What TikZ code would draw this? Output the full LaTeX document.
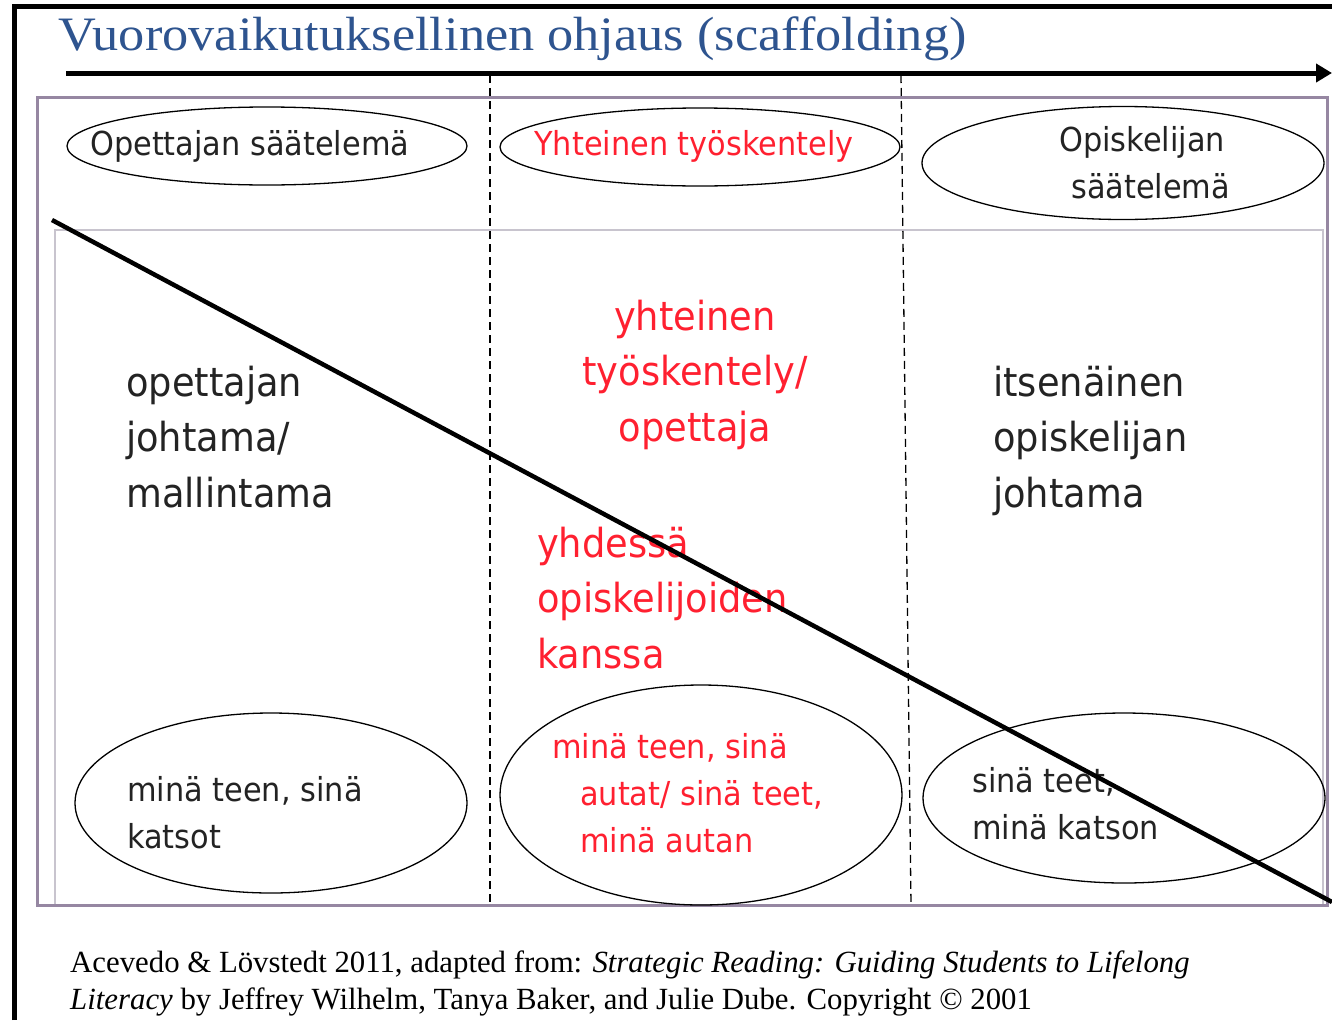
\documentclass[tikz,border=0pt]{standalone}
\usepackage{fontspec}
\setmainfont{Liberation Serif}
\newfontfamily\tahoma[FakeStretch=0.92]{DejaVu Sans}
\newfontfamily\otsikkofontti[FakeStretch=1.09]{Liberation Serif}
\usetikzlibrary{shapes.geometric,arrows.meta}
\definecolor{otsikkosini}{RGB}{46,84,143}
\definecolor{puna}{RGB}{255,32,48}
\definecolor{kehys}{RGB}{150,135,162}
\definecolor{sisakehys}{RGB}{200,196,206}
\definecolor{teksti}{RGB}{35,35,35}
\newcommand{\isoteksti}{\tahoma\fontsize{40}{55.5}\selectfont}
\newcommand{\pieniteksti}{\tahoma\fontsize{33}{47}\selectfont}
\begin{document}
\begin{tikzpicture}[x=1pt, y=-1pt, every node/.style={inner sep=0pt},
	soikio/.style={draw, ellipse, line width=1.3pt},
	kirjoitus/.style={align=left, text=teksti, anchor=base west},
	katko/.style={line width=1.3pt, dash pattern=on 8pt off 5pt}]
	\useasboundingbox (0,0) rectangle (1332,1020);
	\draw[line width=5pt] (14.5,1020) -- (14.5,6.5) -- (1332,6.5);
	\node[anchor=base west, text=otsikkosini, font=\otsikkofontti\fontsize{48}{48}\selectfont] (Otsikko) at (58,50) {Vuorovaikutuksellinen ohjaus (scaffolding)};
	\coordinate (Nuoli alku) at (66,73);
	\coordinate (Nuoli loppu) at (1332,73);
	\draw[line width=5pt, -{Triangle[length=16pt,width=18pt]}] (Nuoli alku) -- (Nuoli loppu);
	\draw[sisakehys, line width=1.5pt] (55,905) |- (1323,230) -- (1323,905);
	\draw[kehys, line width=3pt] (37,97) rectangle (1327,905);
	\draw[katko] (490,75) -- (490,905);
	\draw[katko] (901,75) -- (911,905);
	\node[soikio, minimum width=400, minimum height=78] (Opettajan soikio) at (267,146) {};
	\node[soikio, minimum width=400, minimum height=78] (Yhteinen soikio) at (700,147) {};
	\node[soikio, minimum width=402, minimum height=113] (Opiskelijan soikio) at (1123,163) {};
	\node[soikio, minimum width=392, minimum height=180] (Katsot soikio) at (271,803) {};
	\node[soikio, minimum width=402, minimum height=220] (Autan soikio) at (701,795) {};
	\node[soikio, minimum width=402, minimum height=170] (Katson soikio) at (1124,798) {};
	\node[kirjoitus, font=\pieniteksti] (Opettajan saatelema) at (90,155) {Opettajan säätelemä};
	\node[kirjoitus, font=\pieniteksti, text=puna, anchor=base] (Yhteinen tyoskentely) at (694,155) {Yhteinen työskentely};
	\node[kirjoitus, font=\pieniteksti] (Opiskelijan saatelema) at (1059,198) {Opiskelijan\\\hspace*{12pt}säätelemä};
	\node[kirjoitus, font=\isoteksti] (Opettajan johtama) at (126,507) {opettajan\\johtama/\\mallintama};
	\node[kirjoitus, font=\isoteksti, text=puna, align=center, anchor=base] (Yhteinen opettaja) at (695,441) {yhteinen\\työskentely/\\opettaja};
	\node[kirjoitus, font=\isoteksti] (Itsenainen) at (993,507) {itsenäinen\\opiskelijan\\johtama};
	\node[kirjoitus, font=\isoteksti, text=puna] (Yhdessa) at (537,668) {yhdessä\\opiskelijoiden\\kanssa};
	\node[kirjoitus, font=\pieniteksti] (Mina katsot) at (127,848) {minä teen, sinä\\katsot};
	\node[kirjoitus, font=\pieniteksti, text=puna] (Mina autan) at (552,852) {minä teen, sinä\\\hspace*{28pt}autat/ sinä teet,\\\hspace*{28pt}minä autan};
	\node[kirjoitus, font=\pieniteksti] (Sina teet) at (972,839) {sinä teet,\\minä katson};
	\coordinate (Viiva alku) at (52,220);
	\coordinate (Viiva loppu) at (1332,902);
	\draw[line width=4.5pt] (Viiva alku) -- (Viiva loppu);
	\node[anchor=base west, align=left, font=\fontsize{30.8}{37}\selectfont] (Lahde) at (70,1009) {Acevedo \& Lövstedt 2011, adapted from: \textit{Strategic Reading: Guiding Students to Lifelong}\\\textit{Literacy} by Jeffrey Wilhelm, Tanya Baker, and Julie Dube. Copyright © 2001};
\end{tikzpicture}
\end{document}
